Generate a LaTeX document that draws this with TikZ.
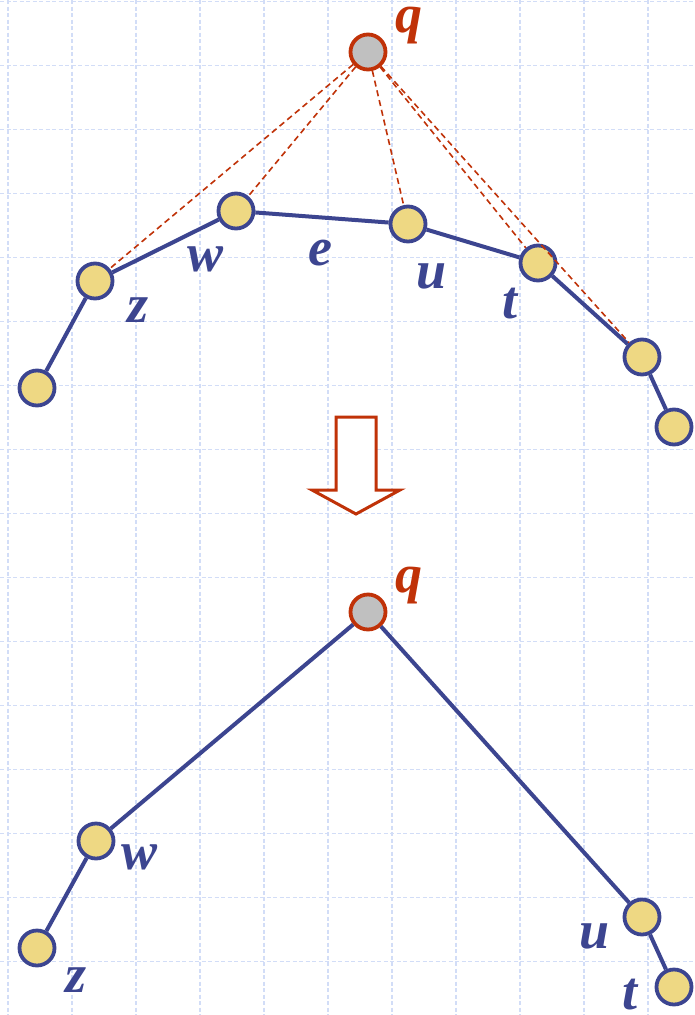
\documentclass[tikz,border=0pt]{standalone}
\usepackage{fontspec}
\setmainfont{Liberation Serif}
\definecolor{nblue}{HTML}{3C4590}
\definecolor{nred}{HTML}{C03208}
\definecolor{nyel}{HTML}{EED883}
\definecolor{ngray}{HTML}{C0C0C0}
\definecolor{ngrid}{HTML}{D2DDF7}
\begin{document}
\begin{tikzpicture}[x=1pt,y=-1pt,
  vtx/.style={circle,draw=nblue,fill=nyel,line width=3.8pt,minimum size=35pt,inner sep=0pt},
  root/.style={circle,draw=nred,fill=ngray,line width=3.8pt,minimum size=35pt,inner sep=0pt},
  edge/.style={draw=nblue,line width=4pt},
  ghost/.style={draw=nred,line width=1.6pt,dash pattern=on 6pt off 4pt},
  lab/.style={text=nblue,font=\fontsize{54}{54}\selectfont\bfseries\itshape,inner sep=0pt},
  rlab/.style={text=nred,font=\fontsize{54}{54}\selectfont\bfseries\itshape,inner sep=0pt},
  gridline/.style={draw=ngrid,line width=1.3pt,dash pattern=on 4pt off 2.5pt}]
\useasboundingbox (0,0) rectangle (695,1015);
\fill[white] (0,0) rectangle (695,1015);
% grid
\foreach \gx in {8,72,136,200,264,328,392,456,520,584,648} {\draw[gridline] (\gx,0) -- (\gx,1015);}
\foreach \gy in {1.5,65.5,129.5,193.5,257.5,321.5,385.5,449.5,513.5,577.5,641.5,705.5,769.5,833.5,897.5,961.5} {\draw[gridline] (0,\gy) -- (695,\gy);}
% top tree
\node[root] (q1) at (368,52) {};
\node[vtx] (w1) at (236,211) {};
\node[vtx] (u1) at (408,224) {};
\node[vtx] (z1) at (95,281) {};
\node[vtx] (a1) at (37,388) {};
\node[vtx] (t1) at (538,263) {};
\node[vtx] (b1) at (642,357) {};
\node[vtx] (c1) at (674,427) {};
\draw[edge] (z1) -- (w1);
\draw[edge] (w1) -- (u1);
\draw[edge] (u1) -- (t1);
\draw[edge] (t1) -- (b1);
\draw[edge] (b1) -- (c1);
\draw[edge] (z1) -- (a1);
\draw[ghost] (q1) -- (z1);
\draw[ghost] (q1) -- (w1);
\draw[ghost] (q1) -- (u1);
\draw[ghost] (q1) -- (t1);
\draw[ghost] (q1) -- (b1);
\node[rlab] (lq1) at (409,26) {q};
\node[lab] (lw1) at (206,259) {w};
\node[lab] (le1) at (320,253) {e};
\node[lab] (lu1) at (432,276) {u};
\node[lab] (lz1) at (138,310) {z};
\node[lab] (lt1) at (510,304) {t};
% arrow
\draw[draw=nred,fill=white,line width=3pt,line join=miter]
  (336,417) -- (376,417) -- (376,490) -- (400,490) -- (356,514) -- (312,490) -- (336,490) -- cycle;
% bottom tree
\node[root] (q2) at (368,612) {};
\node[vtx] (w2) at (96,841) {};
\node[vtx] (z2) at (37,948) {};
\node[vtx] (u2) at (642,917) {};
\node[vtx] (t2) at (674,987) {};
\draw[edge] (q2) -- (w2);
\draw[edge] (w2) -- (z2);
\draw[edge] (q2) -- (u2);
\draw[edge] (u2) -- (t2);
\node[rlab] (lq2) at (409,586) {q};
\node[lab] (lw2) at (140,857) {w};
\node[lab] (lz2) at (76,980) {z};
\node[lab] (lu2) at (595,936) {u};
\node[lab] (lt2) at (630,995) {t};
\end{tikzpicture}
\end{document}
